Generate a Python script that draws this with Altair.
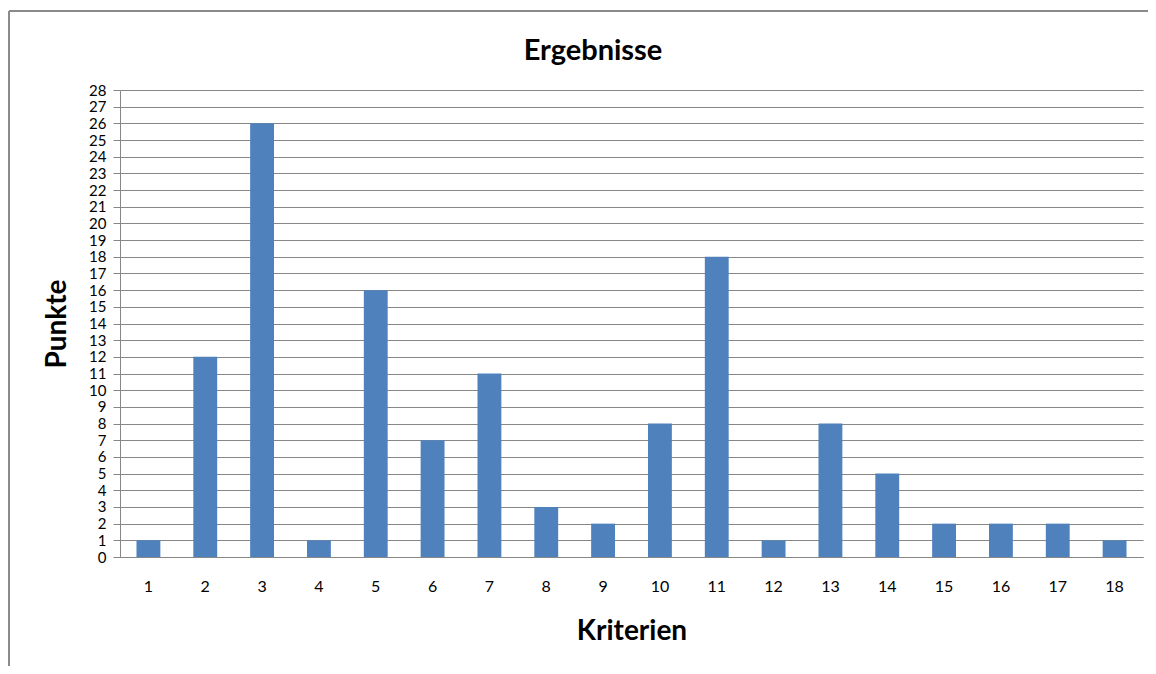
import altair as alt
import pandas as pd

criteria = [str(i) for i in range(1, 19)]
points = [1, 12, 26, 1, 16, 7, 11, 3, 2, 8, 18, 1, 8, 5, 2, 2, 2, 1]
y_ticks = list(range(0, 29))
chart_title = ["Ergebnisse"]

df = pd.DataFrame({"Kriterien": criteria, "Punkte": points})
title_df = pd.DataFrame({"t": chart_title})

FONT = "Lato"
GRID = "#878787"

bars = alt.Chart(df).mark_bar(color="#4F81BD").encode(
    x=alt.X("Kriterien:N", sort=criteria,
            scale=alt.Scale(paddingInner=0.58, paddingOuter=0.29),
            axis=alt.Axis(title="Kriterien", labelAngle=0, ticks=False,
                          labelFontSize=16, labelPadding=21, labelColor="#000",
                          titleFontSize=28, titleFontWeight="bold", titlePadding=23,
                          titleColor="#000", domainColor=GRID, labelFont=FONT, titleFont=FONT)),
    y=alt.Y("Punkte:Q", scale=alt.Scale(domain=[0, 28], nice=False),
            axis=alt.Axis(title="Punkte", values=y_ticks, grid=True, labelOverlap=False,
                          gridColor=GRID, gridOpacity=1, tickColor=GRID, tickSize=7,
                          domainColor=GRID, labelFontSize=15, labelPadding=7, labelColor="#000",
                          titleFontSize=28, titleFontWeight="bold", titlePadding=17,
                          titleColor="#000", labelFont=FONT, titleFont=FONT)),
)

border = alt.Chart(df).mark_rect(fill=None, stroke="#8a8a8a", strokeWidth=1, clip=False).encode(
    x=alt.value(-111), x2=alt.value(1060), y=alt.value(-79), y2=alt.value(620)
)

title = alt.Chart(title_df).mark_text(font=FONT, fontSize=29, fontWeight="bold",
                                      color="#000", baseline="alphabetic", align="center").encode(
    text="t:N", x=alt.value(473), y=alt.value(-30)
)

chart = alt.layer(border, bars, title).properties(
    width=1023, height=467,
    padding={"left": 112, "top": 82, "right": 5, "bottom": 109},
    autosize=alt.AutoSizeParams(type="none"),
).configure_view(stroke=None)

chart.save("out.html", embed_options={"renderer": "svg", "actions": False})
